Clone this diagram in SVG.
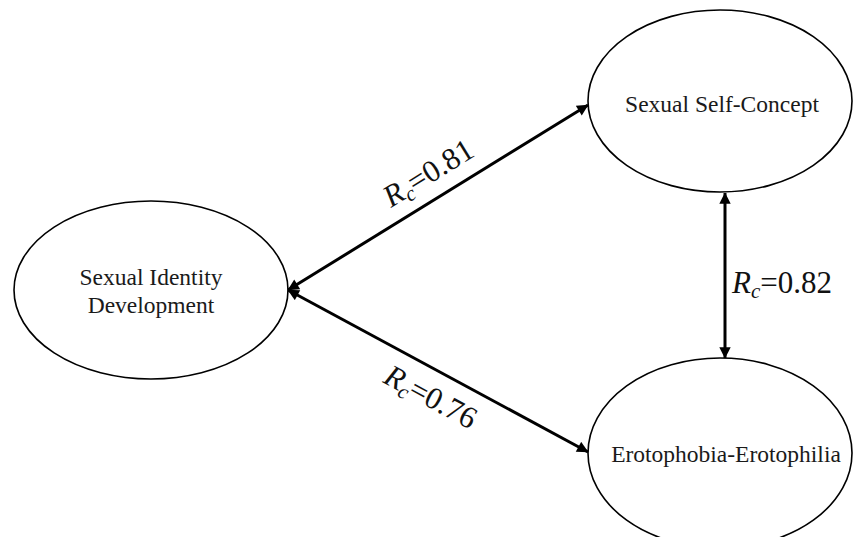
<svg xmlns="http://www.w3.org/2000/svg" width="853" height="537" viewBox="0 0 853 537">
<style>
.node ellipse{fill:#fff;stroke:#000;stroke-width:1.6}
.lbl{font-family:"Liberation Serif","Times New Roman",serif;font-size:23.5px;fill:#1a1a1a}
.rc{font-family:"Liberation Serif","Times New Roman",serif;font-size:31px;fill:#111}
.conn line{stroke:#000;stroke-width:3}
</style>
<defs>
<marker id="ah" viewBox="0 0 10 10" refX="9.5" refY="5" markerWidth="4.2" markerHeight="3.8" orient="auto-start-reverse" markerUnits="strokeWidth">
<path d="M0,0 L10,5 L0,10 z" fill="#000"/>
</marker>
</defs>
<rect width="853" height="537" fill="#fff"/>
<g id="n-sid" class="node">
<ellipse cx="151" cy="290" rx="137" ry="89"/>
<text class="lbl" x="151" y="285" text-anchor="middle">Sexual Identity</text>
<text class="lbl" x="151" y="313" text-anchor="middle">Development</text>
</g>
<g id="n-ssc" class="node">
<ellipse cx="720" cy="101" rx="132" ry="91"/>
<text class="lbl" x="722" y="112" text-anchor="middle">Sexual Self-Concept</text>
</g>
<g id="n-ee" class="node">
<ellipse cx="720" cy="453" rx="132" ry="95"/>
<text class="lbl" x="726" y="462" text-anchor="middle">Erotophobia-Erotophilia</text>
</g>
<g id="connectors" class="conn">
<line x1="288" y1="290" x2="588" y2="105" marker-start="url(#ah)" marker-end="url(#ah)"/>
<line x1="288" y1="290" x2="588" y2="452" marker-start="url(#ah)" marker-end="url(#ah)"/>
<line x1="725" y1="193" x2="725" y2="358" marker-start="url(#ah)" marker-end="url(#ah)"/>
</g>
<g id="labels">
<text class="rc" x="391" y="208" transform="rotate(-31.7 391 208)"><tspan font-style="italic">R</tspan><tspan font-style="italic" font-size="21" dy="5">c</tspan><tspan dy="-5">=0.81</tspan></text>
<text class="rc" x="382" y="382" transform="rotate(28.4 382 382)"><tspan font-style="italic">R</tspan><tspan font-style="italic" font-size="21" dy="5">c</tspan><tspan dy="-5">=0.76</tspan></text>
<text class="rc" x="732" y="293"><tspan font-style="italic">R</tspan><tspan font-style="italic" font-size="21" dy="5">c</tspan><tspan dy="-5">=0.82</tspan></text>
</g>
</svg>
